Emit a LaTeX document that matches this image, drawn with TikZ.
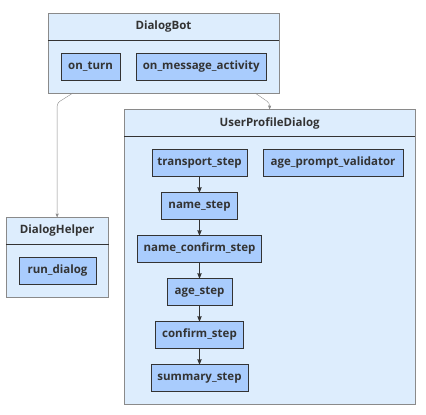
\documentclass[tikz,border=0pt]{standalone}
\usepackage{fontspec}
\setmainfont{Open Sans}
\usepackage{tikz}
\usetikzlibrary{arrows}
\definecolor{groupfill}{HTML}{DDEDFD}
\definecolor{groupline}{HTML}{8A8A8A}
\definecolor{methodfill}{HTML}{A9CCFD}
\definecolor{methodline}{HTML}{333333}
\definecolor{linkgray}{HTML}{8C8C8C}
\tikzstyle{arrow} = [draw=methodline, line width=0.8pt, ->, >=stealth']
\tikzstyle{link} = [draw=linkgray, ->, >=stealth', rounded corners=3pt]
\tikzstyle{group} = [rectangle, draw=groupline, fill=groupfill]
\tikzstyle{title} = [text=methodline, font=\fontsize{11.5}{13}\selectfont\bfseries]
\tikzstyle{method} = [rectangle, draw=methodline, fill=methodfill, text=methodline, minimum height=27pt,
inner sep=0pt, font=\fontsize{11.5}{13}\selectfont\bfseries]

\begin{document}
\begin{tikzpicture}[x=1pt, y=-1pt]
    \useasboundingbox (0,0) rectangle (426,415);

    % Groups
    \node[group, minimum width=231pt, minimum height=80pt] (bot) at (163.5, 53) {};
    \node[title] (bottitle) at (163.5, 27) {DialogBot};
    \draw[methodline] (bot.west |- 0,40) -- (bot.east |- 0,40);

    \node[group, minimum width=102.3pt, minimum height=80pt] (helper) at (57.15, 257.3) {};
    \node[title] (helpertitle) at (57.15, 231) {DialogHelper};
    \draw[methodline] (helper.west |- 0,244) -- (helper.east |- 0,244);

    \node[group, minimum width=290.7pt, minimum height=294.7pt] (profile) at (269.65, 256.65) {};
    \node[title] (profiletitle) at (269.65, 123) {UserProfileDialog};
    \draw[methodline] (profile.west |- 0,136) -- (profile.east |- 0,136);

    % Methods
    \node[method, minimum width=59pt]    (onturn)    at (90.5, 66.5)   {on\_turn};
    \node[method, minimum width=130.5pt] (onmessage) at (201.25, 66.5) {on\_message\_activity};
    \node[method, minimum width=76.4pt]  (rundialog) at (57.5, 271)    {run\_dialog};

    \node[method, minimum width=95.6pt]  (transport)   at (199.5, 162.8) {transport\_step};
    \node[method, minimum width=139.4pt] (validator)   at (333, 162.8)   {age\_prompt\_validator};
    \node[method, minimum width=76pt]    (name)        at (199.5, 205.8) {name\_step};
    \node[method, minimum width=124pt]   (nameconfirm) at (199.5, 248.8) {name\_confirm\_step};
    \node[method, minimum width=65pt]    (age)         at (199.5, 291.8) {age\_step};
    \node[method, minimum width=88pt]    (confirm)     at (199.5, 334.8) {confirm\_step};
    \node[method, minimum width=97pt]    (summary)     at (199.5, 377.8) {summary\_step};

    % Arrows
    \draw[arrow] (transport) -- (name);
    \draw[arrow] (name) -- (nameconfirm);
    \draw[arrow] (nameconfirm) -- (age);
    \draw[arrow] (age) -- (confirm);
    \draw[arrow] (confirm) -- (summary);

    \coordinate (botleft) at (73, 93);
    \coordinate (botright) at (255, 93);
    \draw[link] (botleft) -- (57.15, 103) -- (helper.north);
    \draw[link] (botright) -- (269.65, 103) -- (profile.north);

\end{tikzpicture}
\end{document}
